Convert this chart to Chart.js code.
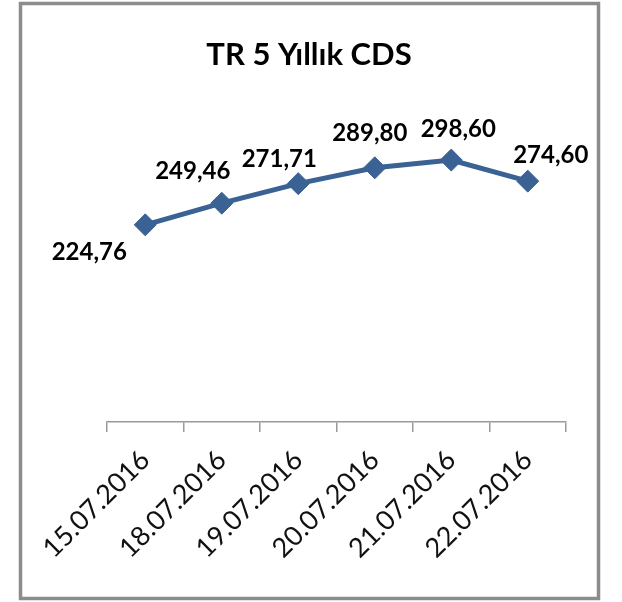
<!DOCTYPE html>
<html>
<head>
<meta charset="utf-8">
<script src="https://cdn.jsdelivr.net/npm/chart.js@4"></script>
<style>
  html, body { margin: 0; padding: 0; background: #fff; }
  #wrap { width: 622px; height: 602px; }
</style>
</head>
<body>
<div id="wrap"><canvas id="cdsChart" width="622" height="602"></canvas></div>
<script>
// Chart data
const dates = ['15.07.2016', '18.07.2016', '19.07.2016', '20.07.2016', '21.07.2016', '22.07.2016'];
const cdsValues = [224.76, 249.46, 271.71, 289.80, 298.60, 274.60];
const chartTitle = 'TR 5 Yıllık CDS';

// where each value label sits relative to its point (x, y)
const labelOffsets = [[-56, 27], [-29, -32], [-19, -24], [-5, -35], [7, -31], [23, -26]];

const formatValue = v => v.toFixed(2).replace('.', ',');

// outer frame + title, centred on the whole picture (not the plot area)
const framePlugin = {
    id: 'frame',
    beforeDraw(chart) {
        const ctx = chart.ctx;
        ctx.save();
        ctx.fillStyle = '#ffffff';
        ctx.fillRect(0, 0, chart.width, chart.height);
        ctx.strokeStyle = '#8c8c8c';
        ctx.lineWidth = 3.5;
        ctx.strokeRect(20.5, 3.5, 578, 595);

        ctx.font = 'bold 31px Lato';
        ctx.fillStyle = '#000000';
        ctx.textAlign = 'center';
        ctx.textBaseline = 'middle';
        ctx.fillText(chartTitle, 309, 55);
        ctx.restore();
    }
};

// value labels next to the points
const valueLabels = {
    id: 'valueLabels',
    afterDatasetsDraw(chart) {
        const ctx = chart.ctx;
        const meta = chart.getDatasetMeta(0);
        ctx.save();
        ctx.font = 'bold 24px Lato';
        ctx.fillStyle = '#000000';
        ctx.textAlign = 'center';
        ctx.textBaseline = 'middle';
        meta.data.forEach((pt, i) => {
            const off = labelOffsets[i] || [0, -25];
            ctx.fillText(formatValue(cdsValues[i]), pt.x + off[0], pt.y + off[1]);
        });
        ctx.restore();
    }
};

const ctx = document.getElementById('cdsChart').getContext('2d');
new Chart(ctx, {
    type: 'line',
    data: {
        labels: dates,
        datasets: [{
            label: chartTitle,
            data: cdsValues,
            borderColor: '#3b6294',
            backgroundColor: '#3b6294',
            borderWidth: 5,
            pointStyle: 'rectRot',
            pointRadius: 11,
            pointHoverRadius: 11,
            pointBackgroundColor: '#3b6294',
            pointBorderColor: '#3b6294',
            pointBorderWidth: 1,
            tension: 0
        }]
    },
    options: {
        responsive: false,
        animation: false,
        layout: {
            padding: { left: 107, right: 56, top: 115, bottom: 0 }
        },
        scales: {
            x: {
                offset: true,
                grid: {
                    offset: true,
                    drawOnChartArea: false,
                    drawTicks: true,
                    tickLength: 10,
                    color: '#9a9a9a',
                    lineWidth: 1.5
                },
                border: { display: true, color: '#9a9a9a', width: 1.5 },
                ticks: {
                    autoSkip: false,
                    minRotation: 45,
                    maxRotation: 45,
                    padding: 12,
                    color: '#111111',
                    font: { family: 'Lato', size: 27 }
                },
                afterFit(scale) {
                    scale.height = 180;
                }
            },
            y: {
                display: false,
                min: 0,
                max: 350
            }
        },
        plugins: {
            legend: { display: false },
            tooltip: { enabled: false },
            title: { display: false }
        }
    },
    plugins: [framePlugin, valueLabels]
});
</script>
</body>
</html>
